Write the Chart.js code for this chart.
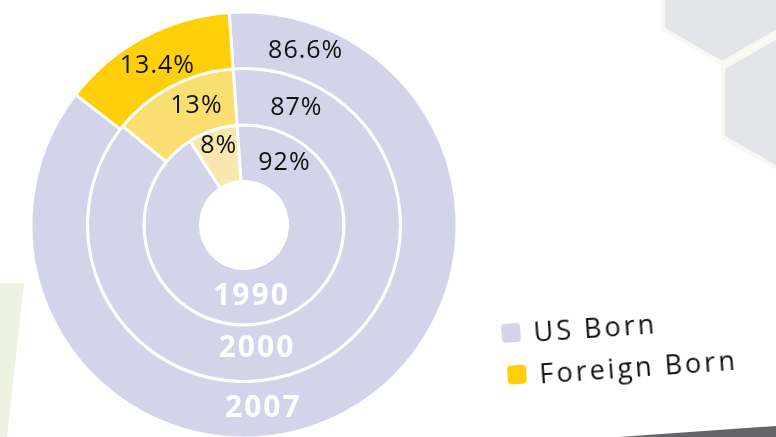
<!DOCTYPE html>
<html>
<head>
<meta charset="utf-8">
<script src="https://cdn.jsdelivr.net/npm/chart.js@4.4.1/dist/chart.umd.min.js"></script>
<style>
  html, body { margin: 0; padding: 0; background: #fff; }
  #wrap { position: relative; width: 776px; height: 437px; overflow: hidden; }
  #bg { position: absolute; left: 0; top: 0; }
  #chartBox { position: absolute; left: 0; top: 0; width: 776px; height: 437px; }
  #legend {
    position: absolute; left: 503px; top: 312px;
    transform: rotate(-4deg); transform-origin: 0 50%;
    font-family: 'Open Sans', sans-serif; font-size: 27px; letter-spacing: 3px; color: #111;
  }
  .row { display: flex; align-items: center; height: 42px; white-space: nowrap; }
  .row + .row { margin-left: 3px; }
  .sw { width: 19px; height: 19px; border-radius: 4px; margin-right: 13px; }
</style>
</head>
<body>
<div id="wrap">
  <svg id="bg" width="776" height="437">
    <polygon points="0,283 24,283 7,437 0,437" fill="#EDF3E0"/>
    <polygon points="663,-39 663,29 722,63 781,29 781,-39" fill="#E4E5E8" stroke="#F6F8F1" stroke-width="4"/>
    <polygon points="723,68 782,34 841,68 841,137 782,171 723,137" fill="#E4E5E8" stroke="#F6F8F1" stroke-width="4"/>
    <polygon points="619,437 776,426 776,437" fill="#656567"/>
  </svg>
  <div id="chartBox"><canvas id="nativityChart"></canvas></div>
  <div id="legend"></div>
</div>
<script>
// data
const categories = ['US Born', 'Foreign Born'];
const years = ['1990', '2000', '2007'];
const usBorn = [92, 87, 86.6];
const foreignBorn = [8, 13, 13.4];

const usColor = '#D3D3EA';
const foreignColors = ['#F8E7AF', '#FADF70', '#FFD00A']; // 1990, 2000, 2007

// rings go outer -> inner, so newest year first
const order = [2, 1, 0];

// draws the % labels and the white year labels on each ring
const ringLabels = {
  id: 'ringLabels',
  afterDatasetsDraw(chart, args, opts) {
    const ctx = chart.ctx;
    ctx.save();
    ctx.textAlign = 'center';
    ctx.textBaseline = 'middle';
    chart.data.datasets.forEach((ds, i) => {
      const meta = chart.getDatasetMeta(i);
      meta.data.forEach((arc, j) => {
        const p = arc.getProps(['x', 'y', 'startAngle', 'endAngle', 'innerRadius', 'outerRadius'], true);
        const mid = (p.innerRadius + p.outerRadius) / 2;
        // US labels sit just after the split line, foreign ones just before it
        const a = j === 0 ? p.startAngle + opts.usShift[i] : p.endAngle - opts.foreignShift[i];
        const r = mid + (j === 0 ? opts.usNudge[i] : opts.foreignNudge[i]);
        ctx.font = "400 25px 'Open Sans', sans-serif";
        ctx.letterSpacing = '1px';
        ctx.fillStyle = '#111';
        ctx.fillText(ds.data[j] + '%', p.x + Math.cos(a) * r, p.y + Math.sin(a) * r);
        if (j === 0) {
          ctx.font = "700 30px 'Open Sans', sans-serif";
          ctx.letterSpacing = '2px';
          ctx.fillStyle = '#fff';
          const ry = mid - (i === 1 ? 4 : 0);
          ctx.fillText(ds.label, p.x + Math.cos(opts.yearAngle) * ry, p.y + Math.sin(opts.yearAngle) * ry);
        }
      });
    });
    ctx.restore();
  }
};

const ctx = document.getElementById('nativityChart');
new Chart(ctx, {
  type: 'doughnut',
  data: {
    labels: categories,
    datasets: order.map(k => ({
      label: years[k],
      data: [usBorn[k], foreignBorn[k]],
      backgroundColor: [usColor, foreignColors[k]],
      borderColor: '#fff',
      borderWidth: 3,
      clip: false
    }))
  },
  options: {
    responsive: true,
    maintainAspectRatio: false,
    animation: false,
    rotation: -4,
    radius: 213,
    cutout: 43,
    layout: { padding: { left: 0, right: 288, top: 13, bottom: 0 } },
    events: [],
    plugins: {
      legend: { display: false },
      tooltip: { enabled: false },
      ringLabels: {
        usShift: [0.41, 0.49, 0.65],
        usNudge: [0, 0, 2],
        foreignShift: [0.43, 0.31, 0.24],
        foreignNudge: [-4, 0, 11],
        yearAngle: 84 * Math.PI / 180
      }
    }
  },
  plugins: [ringLabels]
});

// custom html legend, tilted like the original
const legendColors = [usColor, foreignColors[2]];
document.getElementById('legend').innerHTML = categories.map((c, i) =>
  '<div class="row"><span class="sw" style="background:' + legendColors[i] + '"></span>' + c + '</div>'
).join('');
</script>
</body>
</html>
